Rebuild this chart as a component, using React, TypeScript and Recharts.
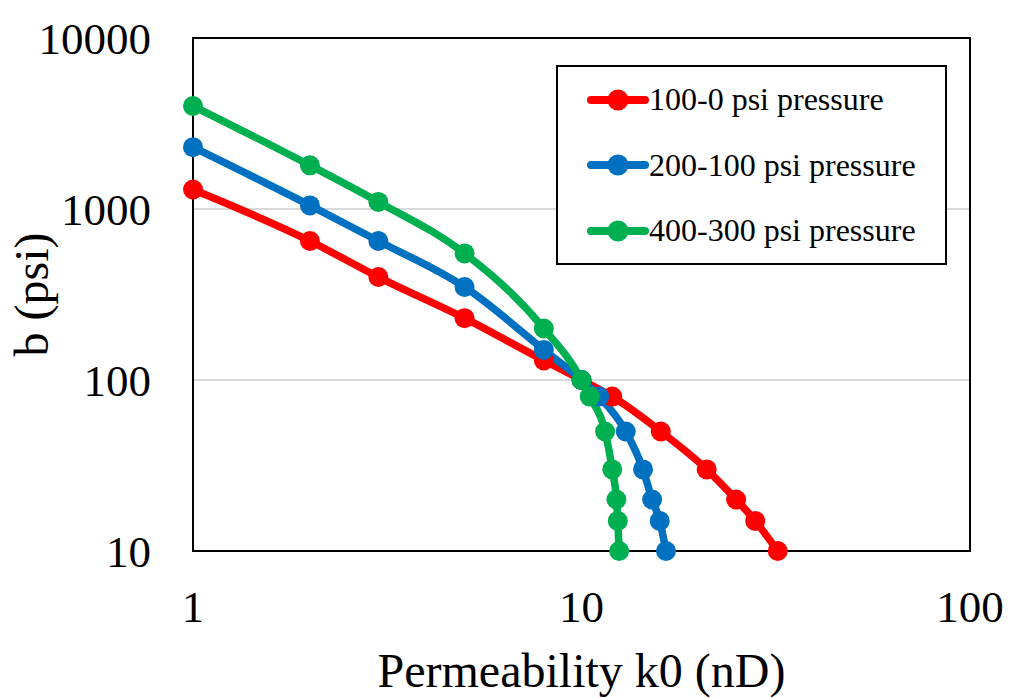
import { LineChart, Line, XAxis, YAxis, CartesianGrid, Legend, ReferenceArea } from 'recharts'

// permeability k0 (nD) and b (psi)
const redK = [1, 2, 3, 5, 8, 10, 12, 16, 21, 25, 28, 32]
const redB = [1300, 650, 400, 230, 130, 100, 80, 50, 30, 20, 15, 10]

const blueK = [1, 2, 3, 5, 8, 10, 11.1, 13, 14.4, 15.2, 15.9, 16.5]
const blueB = [2300, 1050, 650, 350, 150, 100, 80, 50, 30, 20, 15, 10]

const greenK = [1, 2, 3, 5, 8, 10, 10.5, 11.5, 12, 12.3, 12.4, 12.5]
const greenB = [4000, 1800, 1100, 550, 200, 100, 80, 50, 30, 20, 15, 10]

const xTicks = [1, 10, 100]
const yTicks = [10, 100, 1000, 10000]

const toPoints = (k: number[], b: number[]) => k.map((v, i) => ({ k: v, b: b[i] }))

const series = [
  { name: '100-0 psi pressure', color: '#FF0000', data: toPoints(redK, redB) },
  { name: '200-100 psi pressure', color: '#0070C0', data: toPoints(blueK, blueB) },
  { name: '400-300 psi pressure', color: '#00B050', data: toPoints(greenK, greenB) },
]

const FONT = '"Liberation Serif", "Times New Roman", serif'

const YTitle = (props: any) => {
  const vb = props.viewBox || { x: 0, y: 38, width: 193, height: 513 }
  const cx = vb.x + 48
  const cy = vb.y + vb.height / 2
  return (
    <text
      x={cx}
      y={cy}
      transform={`rotate(-90, ${cx}, ${cy})`}
      textAnchor="middle"
      fontSize={48}
      fontFamily={FONT}
      fill="#000"
    >
      b (psi)
    </text>
  )
}

const LegendBox = (props: any) => {
  const payload = props.payload || []
  return (
    <div
      style={{
        width: 391,
        height: 200,
        boxSizing: 'border-box',
        border: '2px solid #000',
        background: '#fff',
        fontFamily: FONT,
        fontSize: 32,
        color: '#000',
      }}
    >
      {payload.map((entry: any) => (
        <div key={entry.value} style={{ display: 'flex', alignItems: 'center', height: 65.5, whiteSpace: 'nowrap' }}>
          <svg width={62} height={24} style={{ marginLeft: 29, flex: 'none' }}>
            <line x1={4} y1={12} x2={58} y2={12} stroke={entry.color} strokeWidth={8} strokeLinecap="round" />
            <circle cx={31} cy={12} r={10.5} fill={entry.color} />
          </svg>
          <span>{entry.value}</span>
        </div>
      ))}
    </div>
  )
}

export default function App() {
  return (
    <div style={{ position: 'absolute', left: 0, top: 0, width: 1011, height: 698, background: '#fff' }}>
      <LineChart width={1011} height={698} margin={{ top: 38, right: 41, left: 0, bottom: 0 }}>
        <CartesianGrid vertical={false} stroke="#d9d9d9" strokeWidth={2} />
        <XAxis
          dataKey="k"
          type="number"
          scale="log"
          domain={[1, 100]}
          ticks={xTicks}
          height={147}
          axisLine={{ stroke: '#000', strokeWidth: 2 }}
          tickLine={false}
          tickSize={0}
          tickMargin={39}
          tick={{ fontSize: 45, fontFamily: FONT, fill: '#000' }}
          label={{
            value: 'Permeability k0 (nD)',
            position: 'insideBottom',
            offset: 11,
            fontSize: 48,
            fontFamily: FONT,
            fill: '#000',
          }}
        />
        <YAxis
          dataKey="b"
          type="number"
          scale="log"
          domain={[10, 10000]}
          ticks={yTicks}
          width={193}
          axisLine={{ stroke: '#000', strokeWidth: 2 }}
          tickLine={false}
          tickSize={0}
          tickMargin={42}
          tick={{ fontSize: 45, fontFamily: FONT, fill: '#000' }}
          label={<YTitle />}
        />
        <ReferenceArea x1={1} x2={100} y1={10} y2={10000} fill="none" stroke="#000" strokeWidth={2} ifOverflow="visible" />
        {series.map((s) => (
          <Line
            key={s.name}
            data={s.data}
            dataKey="b"
            name={s.name}
            type="monotone"
            stroke={s.color}
            strokeWidth={7.5}
            dot={{ r: 10, fill: s.color, stroke: s.color, strokeWidth: 0 }}
            activeDot={false}
            isAnimationActive={false}
          />
        ))}
        <Legend
          layout="horizontal"
          verticalAlign="middle"
          align="center"
          content={<LegendBox />}
          wrapperStyle={{ position: 'absolute', left: 556, top: 65, width: 391, height: 200 }}
        />
      </LineChart>
    </div>
  )
}
